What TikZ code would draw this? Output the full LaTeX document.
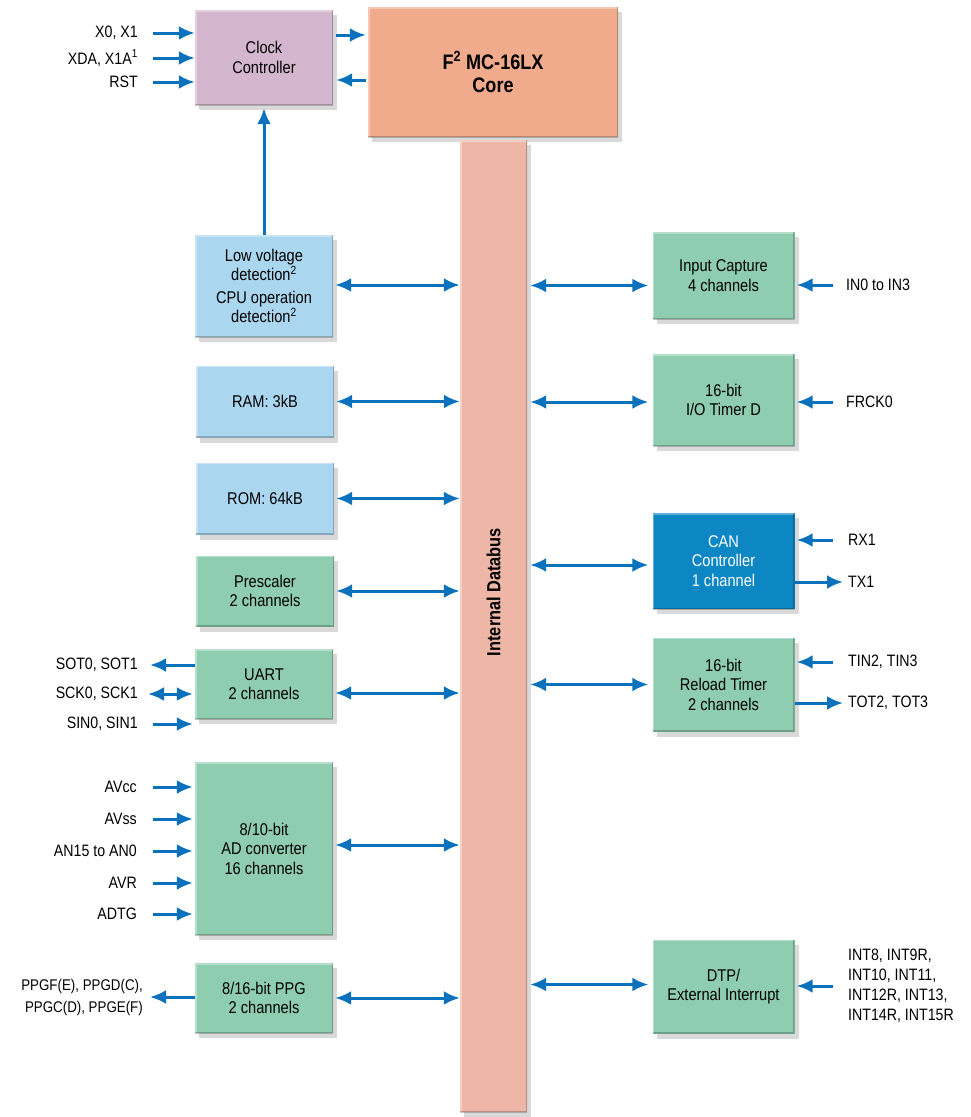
\documentclass[tikz,border=0pt]{standalone}
\usepackage{fontspec}
\setmainfont[FakeStretch=0.86]{Liberation Sans}
\usetikzlibrary{arrows.meta,shadows}

\definecolor{clkpink}{HTML}{D4B6CF}
\definecolor{corered}{HTML}{EFAB8B}
\definecolor{buspink}{HTML}{EEB6A6}
\definecolor{memblue}{HTML}{AAD7EF}
\definecolor{periph}{HTML}{8ECDB0}
\definecolor{canblue}{HTML}{0D86C4}
\definecolor{wire}{HTML}{0A72BD}

\tikzset{
  blk/.style={rectangle, minimum width=138pt, align=center, inner sep=2pt,
    font=\fontsize{17}{19.5}\selectfont,
    drop shadow={shadow xshift=4pt, shadow yshift=-5pt, opacity=0.3},
    path picture={
      \draw[white, opacity=0.35, line width=3pt]
        (path picture bounding box.south west) -- (path picture bounding box.north west)
        -- (path picture bounding box.north east);
      \draw[black, opacity=0.22, line width=3pt]
        (path picture bounding box.north east) -- (path picture bounding box.south east)
        -- (path picture bounding box.south west);}},
  pin/.style={font=\fontsize{16.5}{20}\selectfont, inner sep=0pt},
  sig/.style={wire, line width=3pt, -{Latex[length=16pt,width=14pt]}},
  bi/.style={wire, line width=3pt,
    {Latex[length=16pt,width=14pt]}-{Latex[length=16pt,width=14pt]}},
}

\begin{document}
\begin{tikzpicture}[x=1pt, y=-1pt]
  \useasboundingbox (0,0) rectangle (971,1117);

  % core, clock and bus
  \node[blk, fill=clkpink, minimum height=95pt] (clk) at (264,57.5) {Clock\\Controller};
  \node[blk, fill=corered, minimum width=250pt, minimum height=130pt,
        font=\fontsize{21}{23}\selectfont\bfseries] (core) at (493,72)
        {F\textsuperscript{2} MC-16LX\\Core};
  \node[blk, fill=buspink, minimum width=67pt, minimum height=972pt] (bus) at (493.5,626) {};
  \node[rotate=90, font=\fontsize{19}{21}\selectfont\bfseries] (bustxt) at (493.5,592) {Internal Databus};

  % left column
  \node[blk, fill=memblue, minimum height=102pt] (lvd) at (264,286)
        {Low voltage\\detection\textsuperscript{2}\\[3pt]CPU operation\\detection\textsuperscript{2}};
  \node[blk, fill=memblue, minimum height=72pt] (ram) at (265,401.5) {RAM: 3kB};
  \node[blk, fill=memblue, minimum height=72pt] (rom) at (265,498.5) {ROM: 64kB};
  \node[blk, fill=periph, minimum height=71pt] (pre) at (265,591) {Prescaler\\2 channels};
  \node[blk, fill=periph, minimum height=70pt] (uart) at (264,684) {UART\\2 channels};
  \node[blk, fill=periph, minimum height=173pt] (adc) at (264,848.5) {8/10-bit\\AD converter\\16 channels};
  \node[blk, fill=periph, minimum height=70pt] (ppg) at (264,998) {8/16-bit PPG\\2 channels};

  % right column
  \node[blk, fill=periph, minimum width=142pt, minimum height=87pt] (icu) at (723.5,275.5) {Input Capture\\4 channels};
  \node[blk, fill=periph, minimum width=142pt, minimum height=92pt] (iot) at (723.5,400) {16-bit\\I/O Timer D};
  \node[blk, fill=canblue, text=white, minimum width=142pt, minimum height=96pt] (can) at (723.5,561) {CAN\\Controller\\1 channel};
  \node[blk, fill=periph, minimum width=142pt, minimum height=94pt] (rlt) at (723.5,684.5) {16-bit\\Reload Timer\\2 channels};
  \node[blk, fill=periph, minimum width=142pt, minimum height=94pt] (dtp) at (723.5,986.5) {DTP/\\External Interrupt};

  % clock pins
  \node[pin, anchor=east] (x0) at (138,33) {X0, X1};
  \node[pin, anchor=east] (xda) at (138,58) {XDA, X1A\textsuperscript{1}};
  \node[pin, anchor=east] (rst) at (138,82) {RST};
  \draw[sig] ([xshift=15pt]x0.east) -- (x0 -| clk.west);
  \draw[sig] ([xshift=15pt]xda.east) -- (xda -| clk.west);
  \draw[sig] ([xshift=15pt]rst.east) -- (rst -| clk.west);
  \draw[sig, shorten <=3pt, shorten >=2pt] ([yshift=22.5pt]clk.east) -- ([yshift=22.5pt]clk.east -| core.west);
  \draw[sig, shorten <=2pt, shorten >=3pt] ([yshift=-22.5pt]clk.east -| core.west) -- ([yshift=-22.5pt]clk.east);
  \draw[sig, shorten >=3pt] (lvd.north) -- (clk.south);

  % bus links
  \draw[bi, shorten <=2pt] ([yshift=1pt]lvd.east) -- ([yshift=1pt]lvd.east -| bus.west);
  \draw[bi, shorten <=2pt] (ram.east) -- (ram.east -| bus.west);
  \draw[bi, shorten <=2pt] (rom.east) -- (rom.east -| bus.west);
  \draw[bi, shorten <=2pt] (pre.east) -- (pre.east -| bus.west);
  \draw[bi, shorten <=2pt] ([yshift=-9pt]uart.east) -- ([yshift=-9pt]uart.east -| bus.west);
  \draw[bi, shorten <=2pt] ([yshift=3.5pt]adc.east) -- ([yshift=3.5pt]adc.east -| bus.west);
  \draw[bi, shorten <=2pt] (ppg.east) -- (ppg.east -| bus.west);
  \draw[bi, shorten <=3pt, shorten >=4pt] ([yshift=-10pt]icu.west -| bus.east) -- ([yshift=-10pt]icu.west);
  \draw[bi, shorten <=3pt, shorten >=4pt] ([yshift=-2pt]iot.west -| bus.east) -- ([yshift=-2pt]iot.west);
  \draw[bi, shorten <=3pt, shorten >=4pt] ([yshift=-4pt]can.west -| bus.east) -- ([yshift=-4pt]can.west);
  \draw[bi, shorten <=3pt, shorten >=4pt] (rlt.west -| bus.east) -- (rlt.west);
  \draw[bi, shorten <=3pt, shorten >=4pt] ([yshift=2pt]dtp.west -| bus.east) -- ([yshift=2pt]dtp.west);

  % right pins
  \node[pin, anchor=west] (in0) at (846,285) {IN0 to IN3};
  \node[pin, anchor=west] (frck) at (846,402) {FRCK0};
  \node[pin, anchor=west] (rx) at (848,540) {RX1};
  \node[pin, anchor=west] (tx) at (848,582) {TX1};
  \node[pin, anchor=west] (tin) at (848,662) {TIN2, TIN3};
  \node[pin, anchor=west] (tot) at (848,703) {TOT2, TOT3};
  \node[pin, anchor=west, align=left] (intr) at (848,986)
        {INT8, INT9R,\\INT10, INT11,\\INT12R, INT13,\\INT14R, INT15R};
  \draw[sig, shorten >=2pt] ([xshift=-13pt]in0.west) -- (in0 -| icu.east);
  \draw[sig, shorten >=2pt] ([xshift=-13pt]frck.west) -- (frck -| iot.east);
  \draw[sig, shorten >=2pt] ([xshift=-15pt]rx.west) -- (rx -| can.east);
  \draw[sig] (tx -| can.east) -- ([xshift=-5pt]tx.west);
  \draw[sig, shorten >=2pt] ([xshift=-15pt]tin.west) -- (tin -| rlt.east);
  \draw[sig] (tot -| rlt.east) -- ([xshift=-5pt]tot.west);
  \draw[sig, shorten >=2pt] ([xshift=-15pt]intr.west) -- (intr -| dtp.east);

  % left pins
  \node[pin, anchor=east] (sot) at (138,665) {SOT0, SOT1};
  \node[pin, anchor=east] (sck) at (138,694) {SCK0, SCK1};
  \node[pin, anchor=east] (sin) at (138,724) {SIN0, SIN1};
  \draw[sig, shorten >=2pt] (sot -| uart.west) -- ([xshift=10pt]sot.east);
  \draw[bi, shorten >=2pt, shorten <=2pt] ([xshift=8pt]sck.east) -- (sck -| uart.west);
  \draw[sig, shorten >=2pt] ([xshift=15pt]sin.east) -- (sin -| uart.west);

  \node[pin, anchor=east] (avcc) at (137,787) {AVcc};
  \node[pin, anchor=east] (avss) at (137,819) {AVss};
  \node[pin, anchor=east] (an) at (137,851) {AN15 to AN0};
  \node[pin, anchor=east] (avr) at (137,883) {AVR};
  \node[pin, anchor=east] (adtg) at (137,914) {ADTG};
  \draw[sig, shorten >=2pt] ([xshift=16pt]avcc.east) -- (avcc -| adc.west);
  \draw[sig, shorten >=2pt] ([xshift=16pt]avss.east) -- (avss -| adc.west);
  \draw[sig, shorten >=2pt] ([xshift=16pt]an.east) -- (an -| adc.west);
  \draw[sig, shorten >=2pt] ([xshift=16pt]avr.east) -- (avr -| adc.west);
  \draw[sig, shorten >=2pt] ([xshift=16pt]adtg.east) -- (adtg -| adc.west);

  \node[pin, anchor=east, align=right, font=\fontsize{15.5}{22}\selectfont] (ppgo) at (143,997)
        {PPGF(E), PPGD(C),\\PPGC(D), PPGE(F)};
  \draw[sig] (ppgo -| ppg.west) -- ([xshift=7pt]ppgo.east);
\end{tikzpicture}
\end{document}
